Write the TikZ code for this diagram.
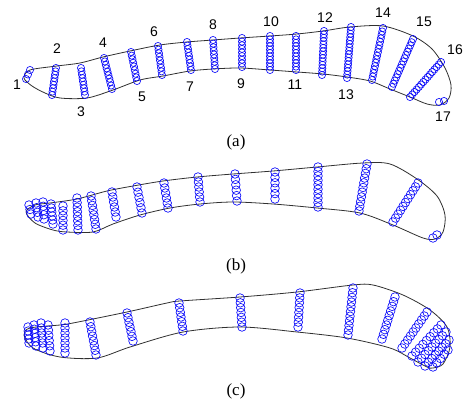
\documentclass[tikz,border=0pt]{standalone}
\usepackage{fontspec}
\setmainfont{Liberation Serif}
\newfontfamily\numfont{Liberation Sans}
\usetikzlibrary{calc}
\definecolor{ringblue}{RGB}{10,10,250}
\definecolor{wall}{HTML}{303030}

\begin{document}
\begin{tikzpicture}[x=1pt, y=-1pt,
    outline/.style={line width=0.8pt, wall},
    ring/.style={line width=0.65pt, ringblue},
    num/.style={font=\numfont\fontsize{14}{14}\selectfont},
    caption/.style={font=\fontsize{17}{17}\selectfont}]
  \useasboundingbox (0,0) rectangle (468,403);

  % Panel (a): outline
  \draw[outline] plot[smooth cycle, tension=0.5] coordinates {
    (24,78) (30,70) (57,66) (80,63) (103,57) (130,51) (160,45) (187,42)
    (213,40) (240,38) (270,36) (297,34) (323,31) (350,27) (383,26)
    (413,36) (432,49) (445,68) (451,85) (449,98) (440,105)
    (427,104) (410,97) (390,89) (370,81) (347,77) (323,74) (297,72)
    (270,70) (240,68) (213,69) (190,71) (163,76) (140,80) (113,90)
    (87,98) (60,98) (45,93) (32,86)};

  % Panel (a): cross sections
  \foreach \xa/\ya/\xb/\yb/\n in {30/70/26/79/2, 56/68/52/95/8, 81/68/85/95/8,
      104/58/112/89/9, 131/52/137/81/8, 158/46/162/75/8, 187/42/191/70/8,
      213/40/215/69/8, 242/38/242/67/8, 270/36/270/70/10, 296/36/296/70/10,
      324/31/322/75/13, 351/27/347/78/15, 383/28/372/80/15, 413/39/392/87/15,
      441/62/410/97/14, 439/102/444/101/1}
    \foreach \i in {0,...,\n}
      \draw[ring] ($(\xa,\ya)!\i/\n!(\xb,\yb)$) circle[radius=3.6];

  % Panel (a): section numbers
  \foreach \t/\x/\y in {1/17/85, 2/57/49, 3/81/112, 4/103/43, 5/142/97,
      6/154/32, 7/190/87, 8/213/25, 9/241/84, 10/271/22, 11/295/85,
      12/325/18, 13/346/95, 14/383/13, 15/424/22, 16/455/50, 17/443/117}
    \node[num] (lab\t) at (\x,\y) {\t};
  \node[caption] (capa) at (236,142) {(a)};

  % Panel (b): outline
  \draw[outline] plot[smooth cycle, tension=0.5] coordinates {
    (26,212) (35,205) (50,203) (77,199) (107,191) (133,186) (163,181)
    (197,177) (233,174) (273,171) (317,167) (363,163) (390,164)
    (417,179) (437,196) (445,215) (443,232) (435,239)
    (423,238) (393,225) (360,213) (317,208) (273,204) (233,202)
    (200,204) (170,208) (140,215) (113,224) (93,232) (67,232) (53,230)
    (35,223)};

  % Panel (b): cross sections
  \foreach \xa/\ya/\xb/\yb/\n in {29/205/31/214/2, 36/203/38/217/3,
      43/202/44/219/4, 51/204/53/224/5, 63/206/63/230/5, 77/198/78/230/7,
      91/196/96/229/7, 112/192/116/217/5, 137/187/142/213/5,
      164/183/168/208/5, 198/177/200/202/5, 235/174/237/201/5,
      275/172/275/199/5, 318/167/318/207/9, 367/164/359/211/10,
      418/183/393/222/10, 437/235/433/238/1}
    \foreach \i in {0,...,\n}
      \draw[ring] ($(\xa,\ya)!\i/\n!(\xb,\yb)$) circle[radius=4.3];
  \node[caption] (capb) at (236,266) {(b)};

  % Panel (c): outline
  \draw[outline] plot[smooth cycle, tension=0.5] coordinates {
    (24,335) (30,328) (60,325) (73,323) (127,312) (167,303) (180,301)
    (240,297) (297,292) (353,285) (373,285) (403,295) (430,310)
    (447,327) (450,347) (443,364) (433,368)
    (427,367) (410,358) (390,348) (347,338) (297,332) (240,327)
    (183,332) (130,347) (97,358) (60,357) (33,348)};

  % Panel (c): cross sections
  \foreach \xa/\ya/\xb/\yb/\n in {28/327/29/343/4, 34/325/36/346/5,
      41/323/43/348/5, 48/325/50/351/5, 65/323/65/353/6, 90/322/96/355/7,
      127/313/133/341/6, 179/303/183/331/6, 240/298/242/327/6,
      300/293/298/327/7, 353/288/348/335/10, 395/297/382/339/9,
      427/312/402/348/9, 441/325/412/356/8, 446/332/418/362/8,
      449/340/425/366/7, 448/350/433/367/4}
    \foreach \i in {0,...,\n}
      \draw[ring] ($(\xa,\ya)!\i/\n!(\xb,\yb)$) circle[radius=4.3];
  \node[caption] (capc) at (236,391) {(c)};
\end{tikzpicture}
\end{document}
